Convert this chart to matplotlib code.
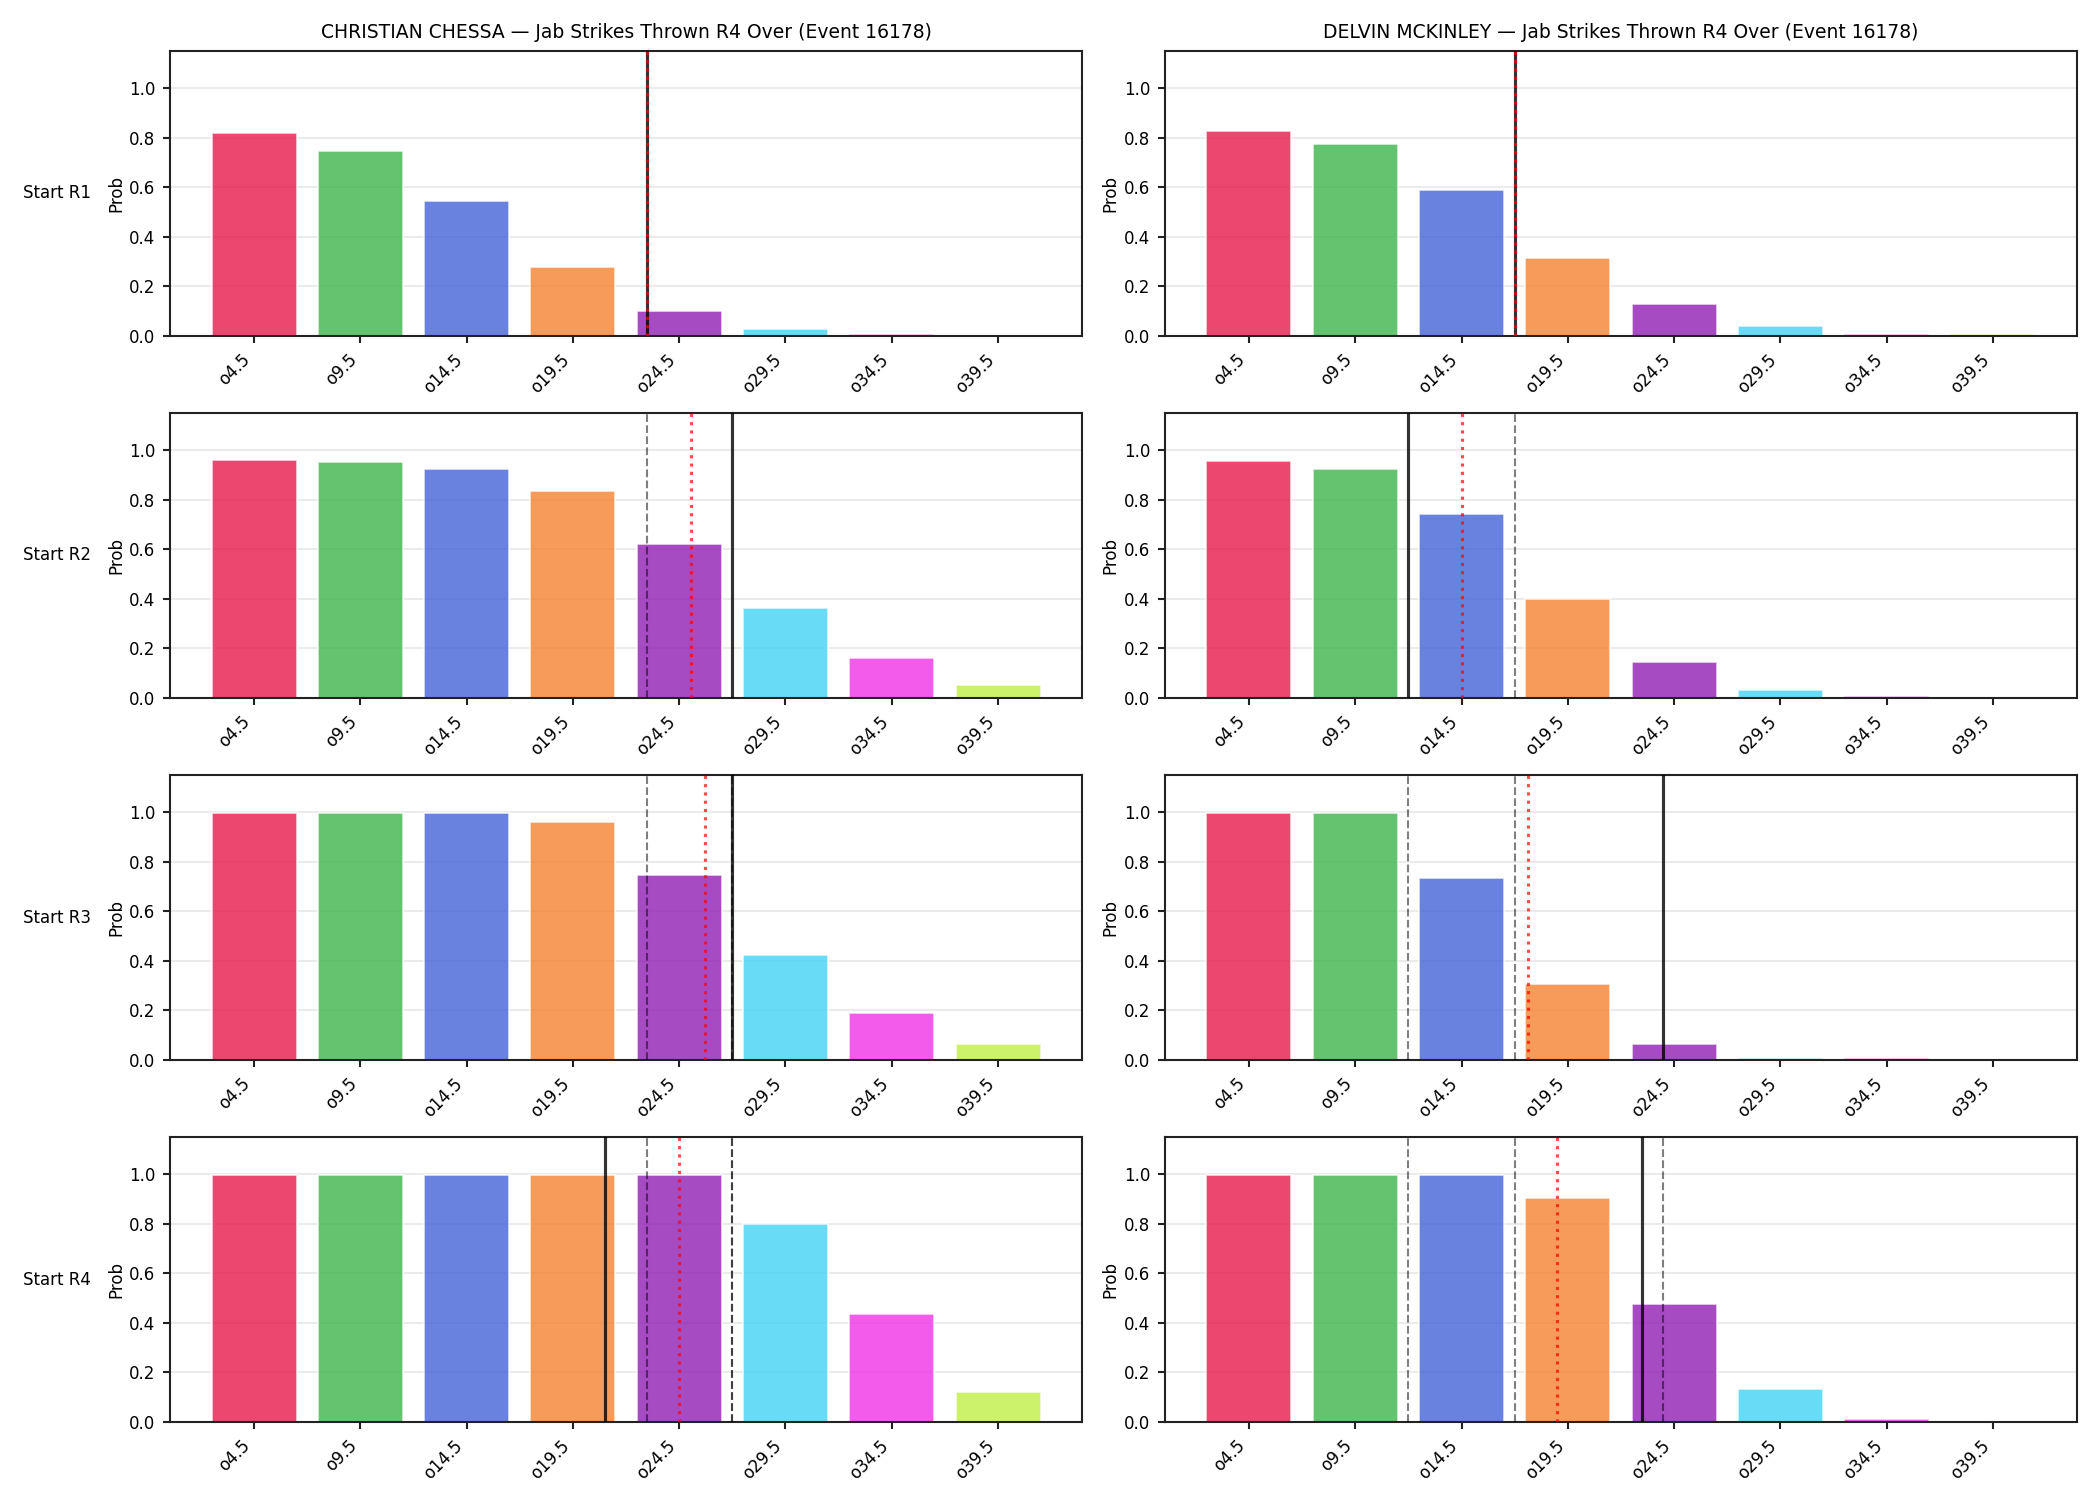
import numpy as np
import matplotlib
matplotlib.use("Agg")
import matplotlib.pyplot as plt

fighters = ["CHRISTIAN CHESSA", "DELVIN MCKINLEY"]
stat_title = "Jab Strikes Thrown R4 Over (Event 16178)"
rounds = ["Start R1", "Start R2", "Start R3", "Start R4"]
thresholds = [4.5, 9.5, 14.5, 19.5, 24.5, 29.5, 34.5, 39.5]
tick_labels = ["o4.5", "o9.5", "o14.5", "o19.5", "o24.5", "o29.5", "o34.5", "o39.5"]
bar_colors = ["#e6194b", "#3cb44b", "#4363d8", "#f58231",
              "#911eb4", "#42d4f4", "#f032e6", "#bfef45"]

# probabilities: [fighter][round][threshold]
chessa_r1 = [0.820, 0.747, 0.543, 0.276, 0.102, 0.026, 0.007, 0.005]
chessa_r2 = [0.962, 0.951, 0.924, 0.834, 0.621, 0.361, 0.162, 0.054]
chessa_r3 = [0.998, 0.997, 0.995, 0.961, 0.745, 0.425, 0.189, 0.065]
chessa_r4 = [0.999, 0.999, 0.998, 0.998, 0.997, 0.800, 0.435, 0.120]
mckinley_r1 = [0.829, 0.776, 0.590, 0.316, 0.130, 0.038, 0.008, 0.006]
mckinley_r2 = [0.957, 0.924, 0.742, 0.398, 0.146, 0.032, 0.007, 0.005]
mckinley_r3 = [0.999, 0.997, 0.736, 0.308, 0.063, 0.007, 0.006, 0.005]
mckinley_r4 = [0.999, 0.999, 0.998, 0.904, 0.475, 0.135, 0.011, 0.004]

probs = [[chessa_r1, chessa_r2, chessa_r3, chessa_r4],
         [mckinley_r1, mckinley_r2, mckinley_r3, mckinley_r4]]

# projected line (solid black) and mean (red dotted), in strikes
chessa_line = [23.0, 27.0, 27.0, 21.0]
chessa_mean = [23.0, 25.05, 25.7, 24.5]
mckinley_line = [17.0, 12.0, 24.0, 23.0]
mckinley_mean = [17.0, 14.5, 17.64, 19.0]
lines = [chessa_line, mckinley_line]
means = [chessa_mean, mckinley_mean]

idx = np.arange(len(thresholds))


def to_x(v):
    return np.interp(v, thresholds, idx)


fig, axes = plt.subplots(4, 2, figsize=(14, 10), dpi=150)
fig.subplots_adjust(left=0.081, right=0.989, top=0.966, bottom=0.052,
                    wspace=0.091, hspace=0.271)

for c in range(2):
    for r in range(4):
        ax = axes[r, c]
        ax.bar(idx, probs[c][r], width=0.8, color=bar_colors, alpha=0.8,
               edgecolor="white", linewidth=0.8, zorder=2)
        for pr in range(r):
            ax.axvline(to_x(lines[c][pr]), color="black", alpha=0.5,
                       linestyle="--", linewidth=1.0, zorder=3)
        ax.axvline(to_x(lines[c][r]), color="black", alpha=0.8,
                   linestyle="-", linewidth=1.5, zorder=4)
        ax.axvline(to_x(means[c][r]), color="red", alpha=0.7,
                   linestyle=":", linewidth=1.5, zorder=5)
        ax.set_ylim(0, 1.15)
        ax.set_xticks(idx)
        ax.set_xticklabels(tick_labels, rotation=45, ha="right", fontsize=8)
        ax.tick_params(axis="y", labelsize=8)
        ax.tick_params(width=1.0, color="#222222")
        for sp in ax.spines.values():
            sp.set_linewidth(1.0)
            sp.set_color("#222222")
        ax.set_ylabel("Prob", fontsize=8, labelpad=2)
        ax.grid(axis="y", alpha=0.3, zorder=0)
        ax.set_axisbelow(True)
        if r == 0:
            ax.set_title(f"{fighters[c]} — {stat_title}", fontsize=9)
        if c == 0:
            ax.text(-0.087, 0.5, rounds[r], transform=ax.transAxes,
                    ha="right", va="center", fontsize=8)

fig.savefig("out.png", dpi=150)
